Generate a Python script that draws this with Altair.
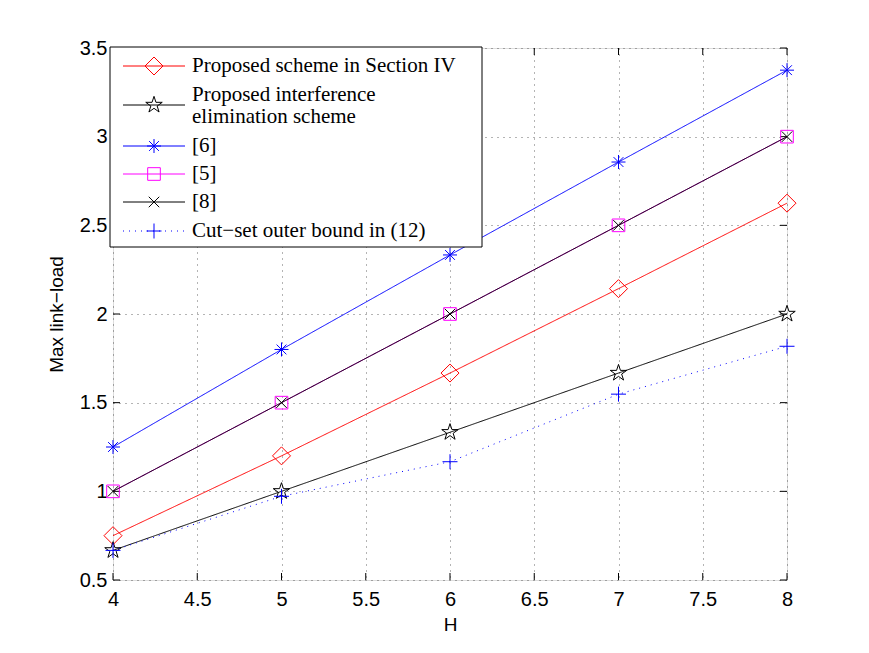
import math
import altair as alt
import pandas as pd

# ---------------- data ----------------
H = [4, 5, 6, 7, 8]
proposed_sec4 = [0.75, 1.2, 1.667, 2.143, 2.625]
interference_elim = [0.667, 1.0, 1.333, 1.667, 2.0]
ref6 = [1.25, 1.8, 2.333, 2.857, 3.375]
ref5 = [1.0, 1.5, 2.0, 2.5, 3.0]
ref8 = [1.0, 1.5, 2.0, 2.5, 3.0]
cutset = [0.667, 0.972, 1.167, 1.548, 1.818]

series_labels = [
    "Proposed scheme in Section IV",
    "Proposed interference\nelimination scheme",
    "[6]",
    "[5]",
    "[8]",
    "Cut\u2212set outer bound in (12)",
]
series_values = [proposed_sec4, interference_elim, ref6, ref5, ref8, cutset]

x_ticks = [4, 4.5, 5, 5.5, 6, 6.5, 7, 7.5, 8]
y_ticks = [0.5, 1, 1.5, 2, 2.5, 3, 3.5]

# ---------------- styles ----------------
def star_path():
    pts = []
    for k in range(10):
        a = math.radians(-90 + 36 * k)
        r = 1.0 if k % 2 == 0 else 0.382
        pts.append(f"{r*math.cos(a):.3f},{r*math.sin(a):.3f}")
    return "M" + "L".join(pts) + "Z"

DIAMOND = "M0,-1L1,0L0,1L-1,0Z"
STAR = star_path()
ASTER = "M-1,0L1,0M0,-1L0,1M-0.7,-0.7L0.7,0.7M-0.7,0.7L0.7,-0.7"
SQUARE = "M-1,-1L1,-1L1,1L-1,1Z"
XMARK = "M-1,-1L1,1M-1,1L1,-1"
PLUS = "M-1,0L1,0M0,-1L0,1"

styles = [
    dict(color="#ff0000", shape=DIAMOND, size=324, dash=[1, 0]),
    dict(color="#000000", shape=STAR, size=300, dash=[1, 0]),
    dict(color="#0000ff", shape=ASTER, size=196, dash=[1, 0]),
    dict(color="#ff00ff", shape=SQUARE, size=160, dash=[1, 0]),
    dict(color="#000000", shape=XMARK, size=110, dash=[1, 0]),
    dict(color="#0000ff", shape=PLUS, size=225, dash=[1, 5]),
]

W, Hh = 674, 532
FONT_SANS = "Liberation Sans"
FONT_SERIF = "Liberation Serif"

xs = alt.Scale(domain=[4, 8], nice=False, zero=False)
ys = alt.Scale(domain=[0.5, 3.5], nice=False, zero=False)

x_axis = alt.Axis(values=x_ticks, title="H", grid=True, ticks=False, domain=False,
                  labelFlush=False, labelPadding=9, titlePadding=6,
                  format="~g")
y_axis = alt.Axis(values=y_ticks, title="Max link\u2212load", grid=True, ticks=False,
                  domain=False, labelPadding=6, titlePadding=13, format="~g")

def X(field="H"):
    return alt.X(f"{field}:Q", scale=xs, axis=x_axis, title="H")

def Y(field="value"):
    return alt.Y(f"{field}:Q", scale=ys, axis=y_axis, title="Max link\u2212load")

layers = []

# inner ticks
xt = pd.DataFrame({"H": x_ticks})
yt = pd.DataFrame({"value": y_ticks})
layers.append(alt.Chart(xt).mark_rule(color="black", strokeWidth=1).encode(
    x=X(), y=alt.value(Hh), y2=alt.value(Hh - 7)))
layers.append(alt.Chart(xt).mark_rule(color="black", strokeWidth=1).encode(
    x=X(), y=alt.value(0), y2=alt.value(7)))
layers.append(alt.Chart(yt).mark_rule(color="black", strokeWidth=1).encode(
    y=Y(), x=alt.value(0), x2=alt.value(7)))
layers.append(alt.Chart(yt).mark_rule(color="black", strokeWidth=1).encode(
    y=Y(), x=alt.value(W), x2=alt.value(W - 7)))

# series
for lab, vals, st in zip(series_labels, series_values, styles):
    df = pd.DataFrame({"H": H, "value": vals})
    layers.append(alt.Chart(df).mark_line(color=st["color"], strokeWidth=1,
                                           strokeDash=st["dash"], clip=False).encode(x=X(), y=Y()))
    layers.append(alt.Chart(df).mark_point(shape=st["shape"], size=st["size"], filled=False,
                                            color=st["color"], strokeWidth=1, opacity=1,
                                            clip=False).encode(x=X(), y=Y()))

# legend (positions in pixels relative to the plot area)
leg_rows = [18, 57, 98, 126, 154, 183]
leg_text_rows = [18, 47, 98, 126, 154, 183]
leg_box = pd.DataFrame({"a": [0]})
layers.append(alt.Chart(leg_box).mark_rect(fill="white", stroke="black", strokeWidth=1).encode(
    x=alt.value(-3), x2=alt.value(369), y=alt.value(-1), y2=alt.value(199)))
for lab, st, ry, ty in zip(series_labels, styles, leg_rows, leg_text_rows):
    d = pd.DataFrame({"label": [lab]})
    layers.append(alt.Chart(d).mark_rule(color=st["color"], strokeWidth=1,
                                         strokeDash=st["dash"]).encode(
        x=alt.value(10), x2=alt.value(72), y=alt.value(ry)))
    layers.append(alt.Chart(d).mark_point(shape=st["shape"], size=st["size"], filled=False,
                                          color=st["color"], strokeWidth=1, opacity=1).encode(
        x=alt.value(41), y=alt.value(ry)))
    layers.append(alt.Chart(d).mark_text(align="left", baseline="middle", font=FONT_SERIF,
                                         fontSize=21, color="black", lineBreak="\n",
                                         lineHeight=22).encode(
        x=alt.value(79), y=alt.value(ty), text="label:N"))

chart = alt.layer(*layers).properties(
    width=W, height=Hh,
    autosize=alt.AutoSizeParams(type="none"),
    padding={"left": 113, "top": 48, "right": 82, "bottom": 73},
).configure_view(
    stroke="black", strokeWidth=1, fill="white"
).configure(background="white").configure_axis(
    labelFont=FONT_SANS, labelFontSize=20, labelColor="black",
    titleFont=FONT_SANS, titleFontSize=19, titleColor="black", titleFontWeight="normal",
    gridColor="#444444", gridDash=[1, 5], gridWidth=1, gridOpacity=0.8,
)

chart.save("out.html", embed_options={"renderer": "svg", "actions": False})
